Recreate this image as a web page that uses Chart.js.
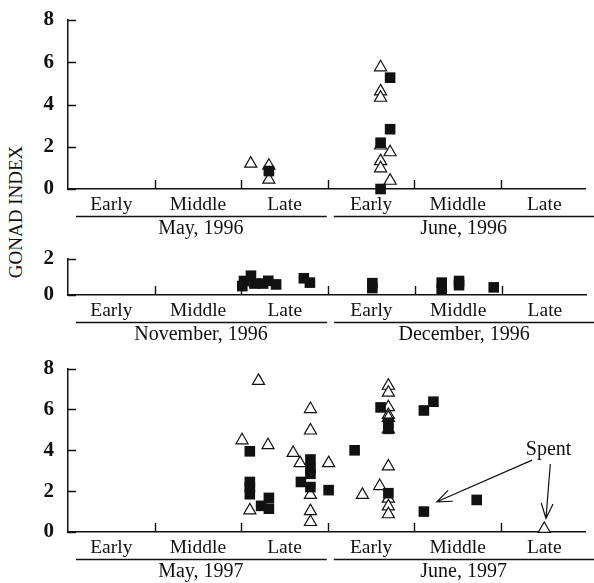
<!DOCTYPE html>
<html>
<head>
<meta charset="utf-8">
<script src="https://cdn.jsdelivr.net/npm/chart.js@4.4.1/dist/chart.umd.min.js"></script>
<style>
  body { margin: 0; background: #fff; width: 594px; height: 583px; position: relative; overflow: hidden; }
  canvas { position: absolute; left: 0; }
  #ytitle {
    position: absolute; left: 16px; top: 212px;
    transform: translate(-50%, -50%) rotate(-90deg);
    font: 19px "Liberation Serif", serif; color: #111; white-space: nowrap;
  }
</style>
</head>
<body>
<div id="ytitle">GONAD INDEX</div>
<canvas id="c1" width="594" height="245" style="top:0px"></canvas>
<canvas id="c2" width="594" height="110" style="top:240px"></canvas>
<canvas id="c3" width="594" height="233" style="top:350px"></canvas>
<script>
// x is measured in ten-day periods: 0-3 first month, 3-6 second month
const periods = ['Early', 'Middle', 'Late', 'Early', 'Middle', 'Late'];
const periodCenters = [0.5, 1.5, 2.5, 3.5, 4.5, 5.5];
const periodBounds = [1, 2, 3, 4, 5];

const months96 = ['May, 1996', 'June, 1996'];
const monthsWinter = ['November, 1996', 'December, 1996'];
const months97 = ['May, 1997', 'June, 1997'];

const yTicksTall = [0, 2, 4, 6, 8];
const yTicksShort = [0, 2];

// May/June 1996
const open96 = [
  {x: 2.11, y: 1.2}, {x: 2.32, y: 1.1}, {x: 2.32, y: 0.44},
  {x: 3.61, y: 5.76}, {x: 3.61, y: 4.62}, {x: 3.61, y: 4.32}, {x: 3.61, y: 2.06},
  {x: 3.72, y: 1.74}, {x: 3.61, y: 1.32}, {x: 3.61, y: 0.98}, {x: 3.72, y: 0.39}
];
const filled96 = [
  {x: 2.32, y: 0.85}, {x: 3.72, y: 5.27}, {x: 3.72, y: 2.83}, {x: 3.61, y: 2.19}, {x: 3.61, y: 0.0}
];

// November/December 1996
const filledWinter = [
  {x: 2.01, y: 0.49}, {x: 2.03, y: 0.77}, {x: 2.11, y: 1.06}, {x: 2.15, y: 0.63},
  {x: 2.25, y: 0.63}, {x: 2.31, y: 0.78}, {x: 2.4, y: 0.58}, {x: 2.72, y: 0.92},
  {x: 2.79, y: 0.68}, {x: 3.51, y: 0.65}, {x: 3.51, y: 0.38}, {x: 4.31, y: 0.68},
  {x: 4.31, y: 0.33}, {x: 4.51, y: 0.77}, {x: 4.51, y: 0.54}, {x: 4.91, y: 0.42}
];

// May/June 1997
const open97 = [
  {x: 2.2, y: 7.4}, {x: 2.01, y: 4.49}, {x: 2.31, y: 4.25}, {x: 2.1, y: 1.06},
  {x: 2.6, y: 3.87}, {x: 2.68, y: 3.37}, {x: 2.8, y: 6.02}, {x: 2.8, y: 4.97},
  {x: 2.8, y: 1.82}, {x: 2.8, y: 1.02}, {x: 2.8, y: 0.49}, {x: 3.01, y: 3.37},
  {x: 3.4, y: 1.82}, {x: 3.6, y: 2.25}, {x: 3.7, y: 7.16}, {x: 3.7, y: 6.82},
  {x: 3.7, y: 6.11}, {x: 3.7, y: 5.73}, {x: 3.7, y: 5.59}, {x: 3.7, y: 5.02},
  {x: 3.7, y: 3.21}, {x: 3.7, y: 1.63}, {x: 3.7, y: 1.25}, {x: 3.7, y: 0.87},
  {x: 5.5, y: 0.15}
];
const filled97 = [
  {x: 2.1, y: 3.95}, {x: 2.1, y: 2.45}, {x: 2.1, y: 2.2}, {x: 2.1, y: 1.85},
  {x: 2.23, y: 1.28}, {x: 2.32, y: 1.67}, {x: 2.32, y: 1.14}, {x: 2.69, y: 2.45},
  {x: 2.8, y: 3.55}, {x: 2.8, y: 3.1}, {x: 2.8, y: 2.85}, {x: 2.8, y: 2.2},
  {x: 3.01, y: 2.05}, {x: 3.31, y: 4.0}, {x: 3.61, y: 6.1}, {x: 3.7, y: 5.35},
  {x: 3.7, y: 5.05}, {x: 3.7, y: 1.9}, {x: 4.11, y: 5.95}, {x: 4.22, y: 6.38},
  {x: 4.11, y: 1.0}, {x: 4.72, y: 1.57}
];

// "Spent" note and its arrows, in data units
const spentText = 'Spent';
const spentAt = {x: 5.55, y: 4.05};
const spentArrows = [
  {from: {x: 5.36, y: 3.52}, to: {x: 4.26, y: 1.48}},
  {from: {x: 5.57, y: 3.33}, to: {x: 5.52, y: 0.67}}
];

const INK = '#111';
const SERIF = '"Liberation Serif", "Times New Roman", serif';

// inward tick marks, month underlines and month names
const axisDecor = {
  id: 'axisDecor',
  afterDraw(chart, args, opts) {
    const {ctx, chartArea: a, scales: {x, y}} = chart;
    ctx.save();
    ctx.strokeStyle = INK;
    ctx.lineWidth = 1.4;
    ctx.beginPath();
    periodBounds.forEach(v => {
      const px = Math.round(x.getPixelForValue(v)) + 0.5;
      ctx.moveTo(px, a.bottom);
      ctx.lineTo(px, a.bottom - 9);
    });
    y.ticks.forEach(t => {
      const py = Math.round(y.getPixelForValue(t.value)) + 0.5;
      ctx.moveTo(a.left, py);
      ctx.lineTo(a.left + 8, py);
    });
    ctx.stroke();

    ctx.fillStyle = INK;
    ctx.font = '20px ' + SERIF;
    ctx.textAlign = 'center';
    ctx.textBaseline = 'middle';
    opts.months.forEach((m, i) => {
      const start = x.getPixelForValue(i * 3);
      const end = i === 0 ? x.getPixelForValue(3) - 1 : chart.width;
      const ly = a.bottom + 27.5;
      ctx.beginPath();
      ctx.moveTo(start + (i === 0 ? 8 : 6), ly);
      ctx.lineTo(end, ly);
      ctx.stroke();
      ctx.fillText(m, x.getPixelForValue(i * 3 + 1.5) + (i === 0 ? 3 : 6), a.bottom + 40);
    });
    ctx.restore();
  }
};

const spentNote = {
  id: 'spentNote',
  afterDatasetsDraw(chart) {
    const {ctx, scales: {x, y}} = chart;
    ctx.save();
    ctx.fillStyle = INK;
    ctx.strokeStyle = INK;
    ctx.lineWidth = 1.2;
    ctx.font = '20px ' + SERIF;
    ctx.textAlign = 'center';
    ctx.textBaseline = 'middle';
    ctx.fillText(spentText, x.getPixelForValue(spentAt.x), y.getPixelForValue(spentAt.y));
    spentArrows.forEach(ar => {
      const x1 = x.getPixelForValue(ar.from.x), y1 = y.getPixelForValue(ar.from.y);
      const x2 = x.getPixelForValue(ar.to.x), y2 = y.getPixelForValue(ar.to.y);
      const ang = Math.atan2(y1 - y2, x1 - x2);
      const len = 16, spread = 0.38;
      ctx.beginPath();
      ctx.moveTo(x1, y1);
      ctx.lineTo(x2, y2);
      ctx.moveTo(x2 + len * Math.cos(ang + spread), y2 + len * Math.sin(ang + spread));
      ctx.lineTo(x2, y2);
      ctx.lineTo(x2 + len * Math.cos(ang - spread), y2 + len * Math.sin(ang - spread));
      ctx.stroke();
    });
    ctx.restore();
  }
};

function openSet(data) {
  return {
    data, pointStyle: 'triangle', pointRadius: 7, pointHoverRadius: 7,
    backgroundColor: '#fff', borderColor: INK, borderWidth: 1.2, clip: false
  };
}

function filledSet(data) {
  return {
    data, pointStyle: 'rect', pointRadius: 7.5, pointHoverRadius: 7.5,
    backgroundColor: INK, borderColor: INK, borderWidth: 0, clip: false
  };
}

function makePanel(id, datasets, yTicks, months, topPad, xHeight, extra) {
  const yMax = yTicks[yTicks.length - 1];
  return new Chart(document.getElementById(id), {
    type: 'scatter',
    data: { datasets },
    options: {
      responsive: false,
      animation: false,
      events: [],
      layout: { padding: { top: topPad, left: 0, right: 0, bottom: 0 } },
      plugins: {
        legend: { display: false },
        tooltip: { enabled: false },
        axisDecor: { months }
      },
      scales: {
        x: {
          type: 'linear', min: 0, max: 5.98,
          afterBuildTicks: s => { s.ticks = periodCenters.map(v => ({ value: v })); },
          afterFit: s => { s.height = xHeight; },
          ticks: {
            autoSkip: false, maxRotation: 0, padding: -4, color: INK,
            font: { family: SERIF, size: 19.5 },
            callback: (v, i) => periods[i]
          },
          grid: { display: false },
          border: { display: true, color: INK, width: 1.5 }
        },
        y: {
          min: 0, max: yMax,
          afterBuildTicks: s => { s.ticks = yTicks.map(v => ({ value: v })); },
          afterFit: s => { s.width = 68; },
          ticks: {
            padding: 6, color: INK,
            font: { family: SERIF, size: 21, weight: 'bold' }
          },
          grid: { display: false },
          border: { display: true, color: INK, width: 1.5 }
        }
      }
    },
    plugins: extra ? [axisDecor, extra] : [axisDecor]
  });
}

makePanel('c1', [filledSet(filled96), openSet(open96)], yTicksTall, months96, 20, 56);
makePanel('c2', [filledSet(filledWinter)], yTicksShort, monthsWinter, 14, 55);
makePanel('c3', [filledSet(filled97), openSet(open97)], yTicksTall, months97, 14, 51, spentNote);
</script>
</body>
</html>
